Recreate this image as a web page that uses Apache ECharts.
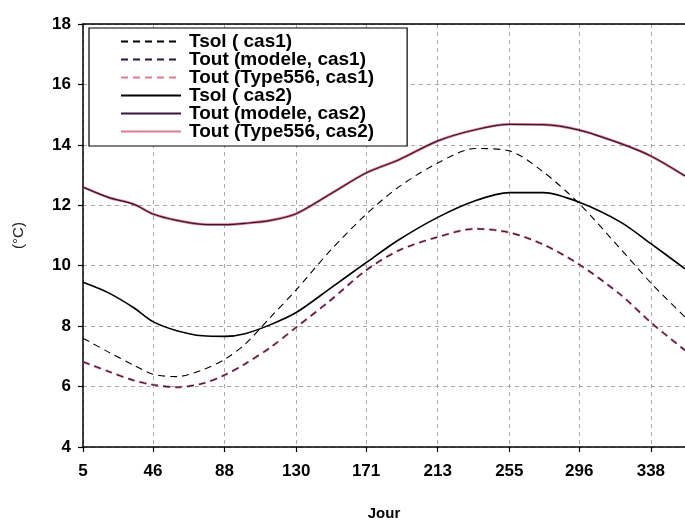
<!DOCTYPE html>
<html>
<head>
<meta charset="utf-8">
<script src="https://cdn.jsdelivr.net/npm/echarts@6/dist/echarts.min.js"></script>
<style>
html,body{margin:0;padding:0;background:#fff;}
#c{width:685px;height:526px;}
</style>
</head>
<body>
<div id="c"></div>
<script>
// Days (x values of the sampled points)
const days = [5, 20, 35, 46, 60, 75, 88, 100, 115, 130, 150, 171, 190, 213, 235, 255, 275, 296, 320, 338, 358];
// Series values (°C)
const tsolCas1        = [7.6, 7.14, 6.7, 6.41, 6.33, 6.55, 6.9, 7.4, 8.3, 9.2, 10.5, 11.7, 12.6, 13.4, 13.88, 13.8, 13.1, 12.05, 10.57, 9.43, 8.3];
const toutModeleCas1  = [6.82, 6.5, 6.2, 6.06, 5.98, 6.1, 6.38, 6.75, 7.3, 7.96, 8.85, 9.85, 10.5, 10.95, 11.22, 11.1, 10.7, 10.04, 9.05, 8.12, 7.2];
const toutType556Cas1 = [6.82, 6.5, 6.2, 6.06, 5.98, 6.1, 6.38, 6.75, 7.3, 7.96, 8.85, 9.85, 10.5, 10.95, 11.22, 11.1, 10.7, 10.04, 9.05, 8.12, 7.2];
const tsolCas2        = [9.45, 9.1, 8.6, 8.15, 7.85, 7.68, 7.66, 7.75, 8.05, 8.45, 9.25, 10.1, 10.85, 11.6, 12.15, 12.42, 12.42, 12.1, 11.45, 10.73, 9.9];
const toutModeleCas2  = [12.6, 12.26, 12.03, 11.71, 11.5, 11.37, 11.36, 11.4, 11.5, 11.72, 12.37, 13.07, 13.5, 14.13, 14.5, 14.68, 14.67, 14.49, 14.05, 13.63, 12.97];
const toutType556Cas2 = [12.6, 12.26, 12.03, 11.71, 11.5, 11.37, 11.36, 11.4, 11.5, 11.72, 12.37, 13.07, 13.5, 14.13, 14.5, 14.68, 14.67, 14.49, 14.05, 13.63, 12.97];
// Tick labels
const xTickLabels = [5, 46, 88, 130, 171, 213, 255, 296, 338];
const seriesNames = ['Tsol ( cas1)', 'Tout (modele, cas1)', 'Tout (Type556, cas1)', 'Tsol ( cas2)', 'Tout (modele, cas2)', 'Tout (Type556, cas2)'];

const pair = arr => days.map((d, i) => [d, arr[i]]);
const FONT = '"Liberation Sans", Arial, sans-serif';
const NARROW = '"Liberation Sans Narrow", "Liberation Sans", Arial, sans-serif';

function line(name, data, color, width, dashed, z, opacity) {
  return {
    name, type: 'line', data: pair(data), symbol: 'none', smooth: 0.3, z: z,
    lineStyle: { color, width, type: dashed ? [7, 5] : 'solid', opacity: opacity == null ? 1 : opacity },
    itemStyle: { color },
    emphasis: { disabled: true }
  };
}

const chart = echarts.init(document.getElementById('c'), null, { renderer: 'canvas' });
chart.setOption({
  animation: false,
  backgroundColor: '#ffffff',
  grid: { left: 83, top: 24, right: 0, bottom: 73 },
  legend: {
    orient: 'vertical', left: 89, top: 28,
    backgroundColor: '#fff', borderColor: '#000', borderWidth: 1.2,
    padding: [4, 33, 5, 31], itemGap: -1, itemWidth: 60, itemHeight: 14,
    itemStyle: { opacity: 0, borderWidth: 0 },
    textStyle: { fontFamily: FONT, fontWeight: 'bold', fontSize: 19, color: '#000', padding: [0, 0, 0, 3] },
    data: seriesNames
  },
  xAxis: [{
    type: 'value', min: 5, max: 358,
    name: 'Jour', nameLocation: 'middle', nameGap: 59,
    nameTextStyle: { fontFamily: NARROW, fontWeight: 'bold', fontSize: 15, color: '#000' },
    axisLine: { show: true, onZero: false, lineStyle: { color: '#000', width: 1.5 } },
    axisTick: { show: true, inside: false, length: 5, customValues: xTickLabels, lineStyle: { color: '#000', width: 1.2 } },
    axisLabel: { customValues: xTickLabels, margin: 16, fontFamily: NARROW, fontWeight: 'bold', fontSize: 17, color: '#000' },
    splitLine: { show: true, lineStyle: { color: '#a8a8a8', type: [4, 4], width: 1 } }
  }, {
    type: 'value', position: 'top', min: 5, max: 358,
    axisLine: { show: true, onZero: false, lineStyle: { color: '#000', width: 1.5 } },
    axisTick: { show: false }, axisLabel: { show: false }, splitLine: { show: false }
  }],
  yAxis: {
    type: 'value', min: 4, max: 18, interval: 2,
    name: '(°C)', nameLocation: 'middle', nameGap: 57, nameRotate: 90,
    nameTextStyle: { fontFamily: FONT, fontSize: 15, color: '#222' },
    axisLine: { show: true, onZero: false, lineStyle: { color: '#000', width: 1.5 } },
    axisTick: { show: true, inside: false, length: 5, lineStyle: { color: '#000', width: 1.2 } },
    axisLabel: { margin: 12, fontFamily: NARROW, fontWeight: 'bold', fontSize: 17, color: '#000' },
    splitLine: { show: true, lineStyle: { color: '#a8a8a8', type: [4, 4], width: 1 } }
  },
  series: [
    line(seriesNames[0], tsolCas1, '#000000', 1.1, true, 5),
    line(seriesNames[1], toutModeleCas1, '#2a1440', 1.1, true, 4),
    line(seriesNames[2], toutType556Cas1, '#d0506a', 2.4, true, 3, 0.75),
    line(seriesNames[3], tsolCas2, '#000000', 1.6, false, 5),
    line(seriesNames[4], toutModeleCas2, '#3a1438', 1.2, false, 4),
    line(seriesNames[5], toutType556Cas2, '#d0506a', 2.6, false, 3, 0.75)
  ]
});
</script>
</body>
</html>
